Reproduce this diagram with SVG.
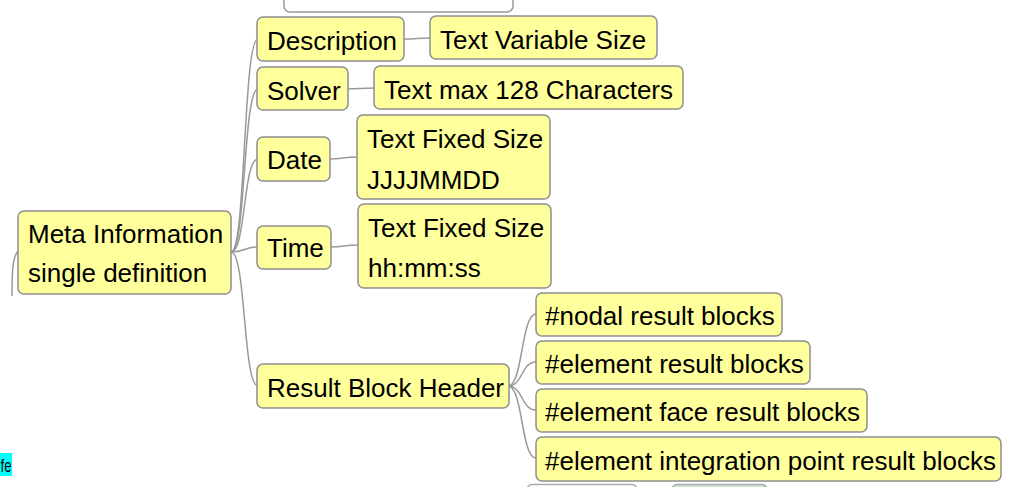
<svg xmlns="http://www.w3.org/2000/svg" width="1013" height="487" viewBox="0 0 1013 487">
<style>
.n{fill:#ffff9c;stroke:#8e8e8e;stroke-width:1.5}
.t{font-family:"Liberation Sans",Arial,sans-serif;font-size:26px;fill:#000}
.c{fill:none;stroke:#999;stroke-width:1.5}
</style>
<rect width="1013" height="487" fill="#fff"/>
<g id="fragments">
<rect x="284" y="-30" width="229" height="42" rx="6" fill="#fff" stroke="#999" stroke-width="1.5"/>
<rect x="527" y="484.5" width="110" height="30" rx="5" fill="#fff" stroke="#aaa" stroke-width="1.5"/>
<rect x="672" y="484.5" width="95" height="30" rx="5" fill="#cde8cd" stroke="#aaa" stroke-width="1.5"/>
<rect x="0" y="453" width="12" height="23" fill="#00ffff"/>
<text x="0.5" y="472" font-family="Liberation Sans, Arial, sans-serif" font-size="19" textLength="11" lengthAdjust="spacingAndGlyphs">fe</text>
</g>
<g id="connectors">
<path class="c" d="M18,251 C12,258 12,276 12,296"/>
<path class="c" d="M231,252 C246,252 243,39 258,39"/>
<path class="c" d="M231,252 C246,252 243,89 258,89"/>
<path class="c" d="M231,252 C246,252 243,159 258,159"/>
<path class="c" d="M231,252 C246,252 243,247 258,247"/>
<path class="c" d="M231,252 C246,252 243,386 258,386"/>
<path class="c" d="M404,39 C417,39 417,38 430,38"/>
<path class="c" d="M347,89 C360,89 360,88 374,88"/>
<path class="c" d="M330,159 C343,159 343,157 357,157"/>
<path class="c" d="M331,247 C344,247 344,245 358,245"/>
<path class="c" d="M508,386 C523,386 521,314 536,314"/>
<path class="c" d="M508,386 C523,386 521,362 536,362"/>
<path class="c" d="M508,386 C523,386 521,410 536,410"/>
<path class="c" d="M508,386 C523,386 521,458 536,458"/>
</g>
<g id="meta"><rect class="n" x="18" y="211" width="213" height="83" rx="6"/><text class="t" x="28" y="243">Meta Information</text><text class="t" x="28" y="282">single definition</text></g>
<g id="description"><rect class="n" x="257" y="17" width="147" height="44" rx="6"/><text class="t" x="267" y="50">Description</text></g>
<g id="textvar"><rect class="n" x="430" y="16" width="227" height="43" rx="6"/><text class="t" x="440" y="49">Text Variable Size</text></g>
<g id="solver"><rect class="n" x="257" y="67" width="91" height="43" rx="6"/><text class="t" x="267" y="100">Solver</text></g>
<g id="textmax"><rect class="n" x="374" y="66" width="309" height="43" rx="6"/><text class="t" x="384" y="99">Text max 128 Characters</text></g>
<g id="date"><rect class="n" x="257" y="137" width="73" height="44" rx="6"/><text class="t" x="267" y="169">Date</text></g>
<g id="datefmt"><rect class="n" x="357" y="115" width="193" height="84" rx="6"/><text class="t" x="367" y="148">Text Fixed Size</text><text class="t" x="367" y="189">JJJJMMDD</text></g>
<g id="time"><rect class="n" x="257" y="226" width="74" height="43" rx="6"/><text class="t" x="267" y="257">Time</text></g>
<g id="timefmt"><rect class="n" x="358" y="204" width="193" height="84" rx="6"/><text class="t" x="368" y="237">Text Fixed Size</text><text class="t" x="368" y="277">hh:mm:ss</text></g>
<g id="rbh"><rect class="n" x="257" y="364" width="252" height="44" rx="6"/><text class="t" x="267" y="397">Result Block Header</text></g>
<g id="nodal"><rect class="n" x="536" y="293" width="246" height="43" rx="6"/><text class="t" x="545" y="325">#nodal result blocks</text></g>
<g id="element"><rect class="n" x="536" y="341" width="274" height="43" rx="6"/><text class="t" x="545" y="373">#element result blocks</text></g>
<g id="face"><rect class="n" x="536" y="389" width="331" height="43" rx="6"/><text class="t" x="545" y="421">#element face result blocks</text></g>
<g id="integration"><rect class="n" x="536" y="437" width="465" height="44" rx="6"/><text class="t" x="545" y="470">#element integration point result blocks</text></g>
</svg>
